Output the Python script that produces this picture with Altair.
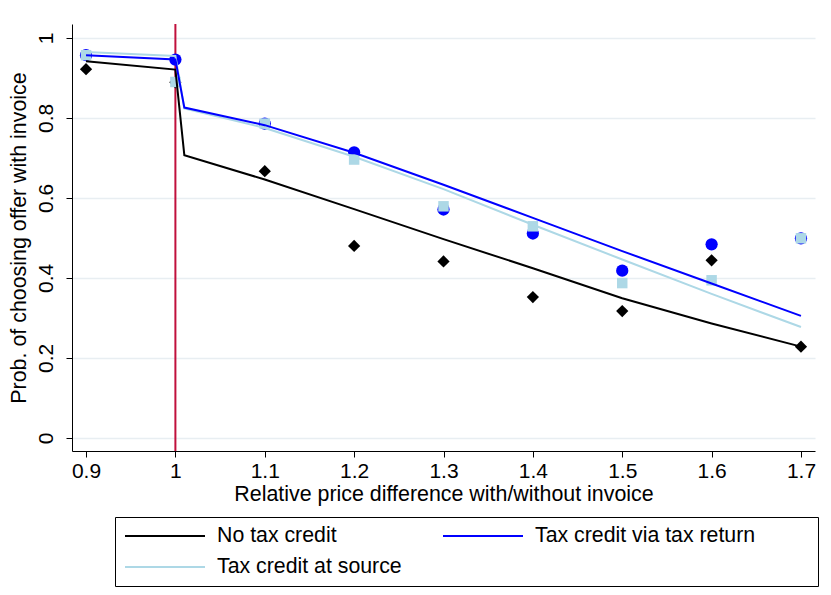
import altair as alt
import pandas as pd

# ---- data ----
series = ["No tax credit", "Tax credit via tax return", "Tax credit at source"]
line_colors = ["#000000", "#0000ff", "#add8e6"]
marker_shapes = ["diamond", "circle", "square"]
marker_sizes = [150, 150, 110]

x_points = [0.9, 1.0, 1.1, 1.2, 1.3, 1.4, 1.5, 1.6, 1.7]
pts_no_credit = [0.922, 0.889, 0.667, 0.480, 0.441, 0.352, 0.317, 0.444, 0.228]
pts_tax_return = [0.957, 0.946, 0.786, 0.714, 0.571, 0.511, 0.418, 0.484, 0.499]
pts_at_source = [0.957, 0.890, 0.786, 0.696, 0.579, 0.529, 0.387, 0.394, 0.499]

x_fit = [0.9, 1.0, 1.01, 1.1, 1.2, 1.3, 1.4, 1.5, 1.6, 1.7]
fit_no_credit = [0.942, 0.921, 0.707, 0.646, 0.572, 0.497, 0.424, 0.349, 0.286, 0.228]
fit_tax_return = [0.957, 0.946, 0.826, 0.782, 0.713, 0.633, 0.550, 0.467, 0.386, 0.305]
fit_at_source = [0.965, 0.955, 0.824, 0.775, 0.703, 0.622, 0.533, 0.446, 0.360, 0.277]

vline_x = [1.0]
x_ticks = [0.9, 1.0, 1.1, 1.2, 1.3, 1.4, 1.5, 1.6, 1.7]
y_ticks = [0, 0.2, 0.4, 0.6, 0.8, 1.0]
x_domain = [0.8843, 1.7157]
y_domain = [-0.033, 1.035]

# ---- tables ----
pt_rows = []
for s, ys, shp, col, sz in zip(series, [pts_no_credit, pts_tax_return, pts_at_source],
                               marker_shapes, line_colors, marker_sizes):
    for xv, yv in zip(x_points, ys):
        pt_rows.append({"series": s, "x": xv, "y": yv, "shape": shp, "fillcol": col, "size": sz})
pts_df = pd.DataFrame(pt_rows)

fit_rows = []
# drawing order: black, light blue, blue (blue on top)
for s, ys in [(series[0], fit_no_credit), (series[2], fit_at_source), (series[1], fit_tax_return)]:
    for xv, yv in zip(x_fit, ys):
        fit_rows.append({"series": s, "x": xv, "y": yv})
fit_df = pd.DataFrame(fit_rows)

FONT = "Liberation Sans"

xscale = alt.Scale(domain=x_domain, nice=False, zero=False)
yscale = alt.Scale(domain=y_domain, nice=False, zero=False)

x_axis = alt.Axis(values=x_ticks, format=".1~f", title="Relative price difference with/without invoice",
                  grid=False, labelPadding=3, titlePadding=2, labelFlush=False)
y_axis = alt.Axis(values=y_ticks, format=".1~f", title="Prob. of choosing offer with invoice",
                  grid=True, labelAngle=-90, labelAlign="center", labelBaseline="bottom",
                  labelPadding=10, titlePadding=6)

vline = alt.Chart(pd.DataFrame({"x": vline_x})).mark_rule(color="#c0103c", strokeWidth=2).encode(
    x=alt.X("x:Q", scale=xscale, axis=x_axis)
)

pts = alt.Chart(pts_df).mark_point(filled=True, opacity=1, strokeWidth=0).encode(
    x=alt.X("x:Q", scale=xscale, axis=x_axis),
    y=alt.Y("y:Q", scale=yscale, axis=y_axis),
    fill=alt.Fill("fillcol:N", scale=None),
    shape=alt.Shape("shape:N", scale=None),
    size=alt.Size("size:Q", scale=None),
)

lines = alt.Chart(fit_df).mark_line(strokeWidth=2).encode(
    x=alt.X("x:Q", scale=xscale, axis=x_axis),
    y=alt.Y("y:Q", scale=yscale, axis=y_axis),
    color=alt.Color("series:N", scale=alt.Scale(domain=series, range=line_colors),
                    legend=alt.Legend(orient="none", legendX=43, legendY=493, columns=2,
                                      direction="horizontal",
                                      title=" ", titleOrient="right", titleFontSize=1, titlePadding=59,
                                      symbolType="stroke", symbolSize=6400, symbolStrokeWidth=2,
                                      clipHeight=30, rowPadding=1, columnPadding=35,
                                      symbolOffset=5, labelOffset=11,
                                      labelFontSize=21.3, labelColor="black", labelFont=FONT,
                                      labelLimit=400, padding=4, strokeColor="black",
                                      fillColor="white", cornerRadius=0)),
)

chart = alt.layer(vline, pts, lines).properties(
    width=743, height=427,
    padding={"left": 64, "top": 16, "right": 8, "bottom": 136},
    autosize=alt.AutoSizeParams(type="none"),
).configure(font=FONT).configure_view(stroke=None).configure_axis(
    domainColor="black", tickColor="black", tickSize=6, domainWidth=1, tickWidth=1,
    labelFontSize=21, labelColor="black", labelFont=FONT,
    titleFontSize=21.4, titleFontWeight="normal", titleColor="black", titleFont=FONT,
    gridColor="#e8eef2", gridWidth=1.5,
)

chart.save("out.html", embed_options={"renderer": "svg", "actions": False})
